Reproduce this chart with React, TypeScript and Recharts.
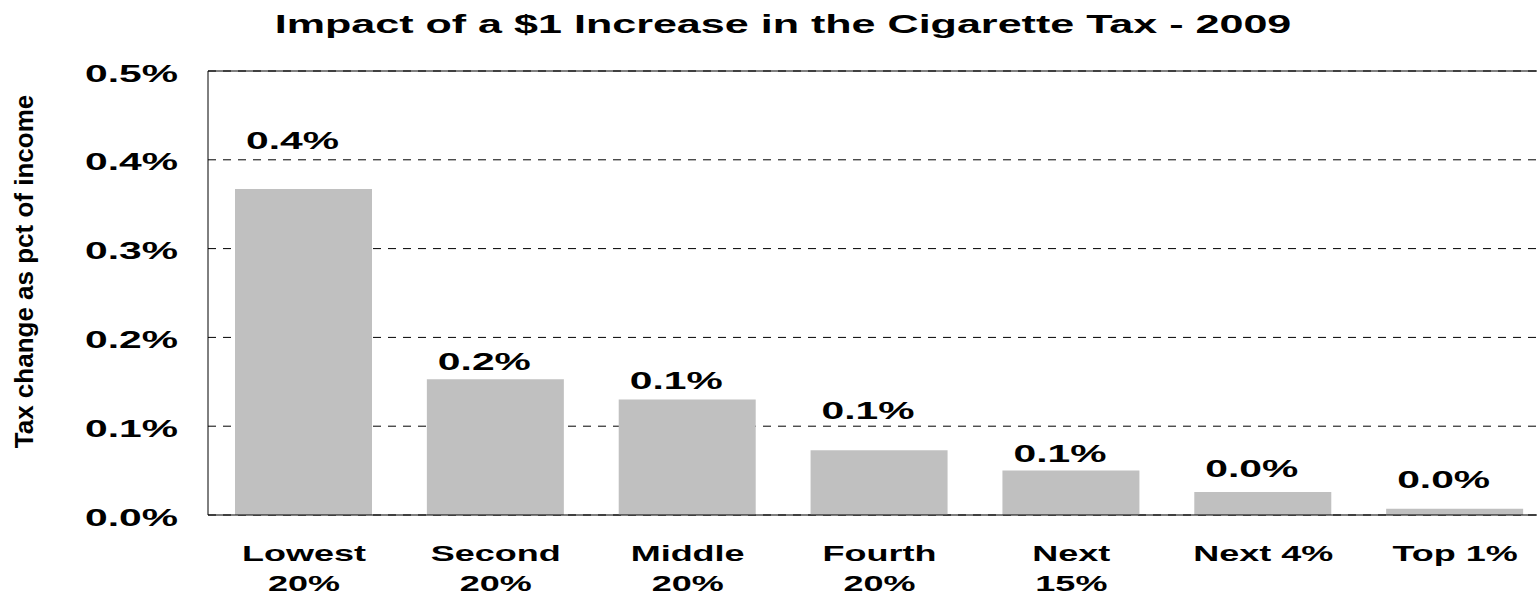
import { Bar, BarChart, CartesianGrid, LabelList, ReferenceLine, XAxis, YAxis } from "recharts";

const CATEGORIES = [
  "Lowest 20%", "Second 20%", "Middle 20%", "Fourth 20%", "Next 15%", "Next 4%", "Top 1%",
];
// how the category labels wrap under the axis
const CATEGORY_LINES = [
  ["Lowest", "20%"], ["Second", "20%"], ["Middle", "20%"], ["Fourth", "20%"],
  ["Next", "15%"], ["Next 4%"], ["Top 1%"],
];
const TAX_CHANGE_PCT = [0.367, 0.153, 0.13, 0.073, 0.05, 0.026, 0.007];
const Y_TICKS = [0, 0.1, 0.2, 0.3, 0.4, 0.5];
// the data labels were placed by hand in the original, so each sits at its own gap above the bar
const LABEL_GAP = [49, 18, 19, 40, 17.5, 23, 29.5];

const FONT = "'Liberation Sans', Arial, Helvetica, sans-serif";
const STRETCH = 1.7; // source picture is stretched wide

const data = CATEGORIES.map((name, i) => ({ name, value: TAX_CHANGE_PCT[i] }));

const pct = (v: number) => `${v.toFixed(1)}%`;

function YTick({ x, y, payload }: any) {
  return (
    <text
      transform={`translate(${x},${y + 10.5}) scale(${STRETCH},1)`}
      textAnchor="end"
      fontFamily={FONT}
      fontSize={24}
      fontWeight="bold"
      fill="#000"
    >
      {pct(payload.value)}
    </text>
  );
}

function XTick({ x, y, index }: any) {
  const lines = CATEGORY_LINES[index] ?? [];
  return (
    <g>
      {lines.map((line, i) => (
        <text
          key={i}
          transform={`translate(${x},${y + 46 + i * 30}) scale(1.6,1)`}
          textAnchor="middle"
          fontFamily={FONT}
          fontSize={22.5}
          fontWeight="bold"
          fill="#000"
        >
          {line}
        </text>
      ))}
    </g>
  );
}

function ValueLabel(props: any) {
  const { x, y, width, value, index } = props;
  const cx = Number(x) + Number(width) / 2 - 11;
  const base = Number(y) - LABEL_GAP[index] + 8.5;
  return (
    <text
      transform={`translate(${cx},${base}) scale(${STRETCH},1)`}
      textAnchor="middle"
      fontFamily={FONT}
      fontSize={24}
      fontWeight="bold"
      fill="#000"
    >
      {pct(Number(value))}
    </text>
  );
}

export default function App() {
  return (
    <div
      style={{
        position: "absolute",
        left: 0,
        top: 0,
        width: 1537,
        height: 596,
        overflow: "hidden",
        background: "#fff",
      }}
    >
      <BarChart
        width={1560}
        height={596}
        data={data}
        margin={{ top: 71, right: 9, bottom: 0, left: 0 }}
      >
        <CartesianGrid vertical={false} stroke="#000" strokeDasharray="8 7" />
        <XAxis
          dataKey="name"
          height={81}
          interval={0}
          tickLine={false}
          tickSize={0}
          tickMargin={0}
          axisLine={{ stroke: "#000" }}
          tick={<XTick />}
        />
        <YAxis
          domain={[0, 0.5]}
          ticks={Y_TICKS}
          width={208}
          tickLine={false}
          tickSize={0}
          tickMargin={30}
          axisLine={{ stroke: "#000" }}
          tick={<YTick />}
        />
        <ReferenceLine y={0.5} stroke="#000" />
        <Bar dataKey="value" fill="#C0C0C0" barSize={137} isAnimationActive={false}>
          <LabelList dataKey="value" content={<ValueLabel />} />
        </Bar>
      </BarChart>
      <svg
        width={1537}
        height={596}
        style={{ position: "absolute", left: 0, top: 0, pointerEvents: "none" }}
      >
        <text
          transform={`translate(783,33) scale(1.69,1)`}
          textAnchor="middle"
          fontFamily={FONT}
          fontSize={25.5}
          fontWeight="bold"
          fill="#000"
        >
          Impact of a $1 Increase in the Cigarette Tax - 2009
        </text>
        <text
          transform="translate(33,271.5) rotate(-90)"
          textAnchor="middle"
          fontFamily={FONT}
          fontSize={26}
          fontWeight="bold"
          fill="#000"
        >
          Tax change as pct of income
        </text>
      </svg>
    </div>
  );
}
